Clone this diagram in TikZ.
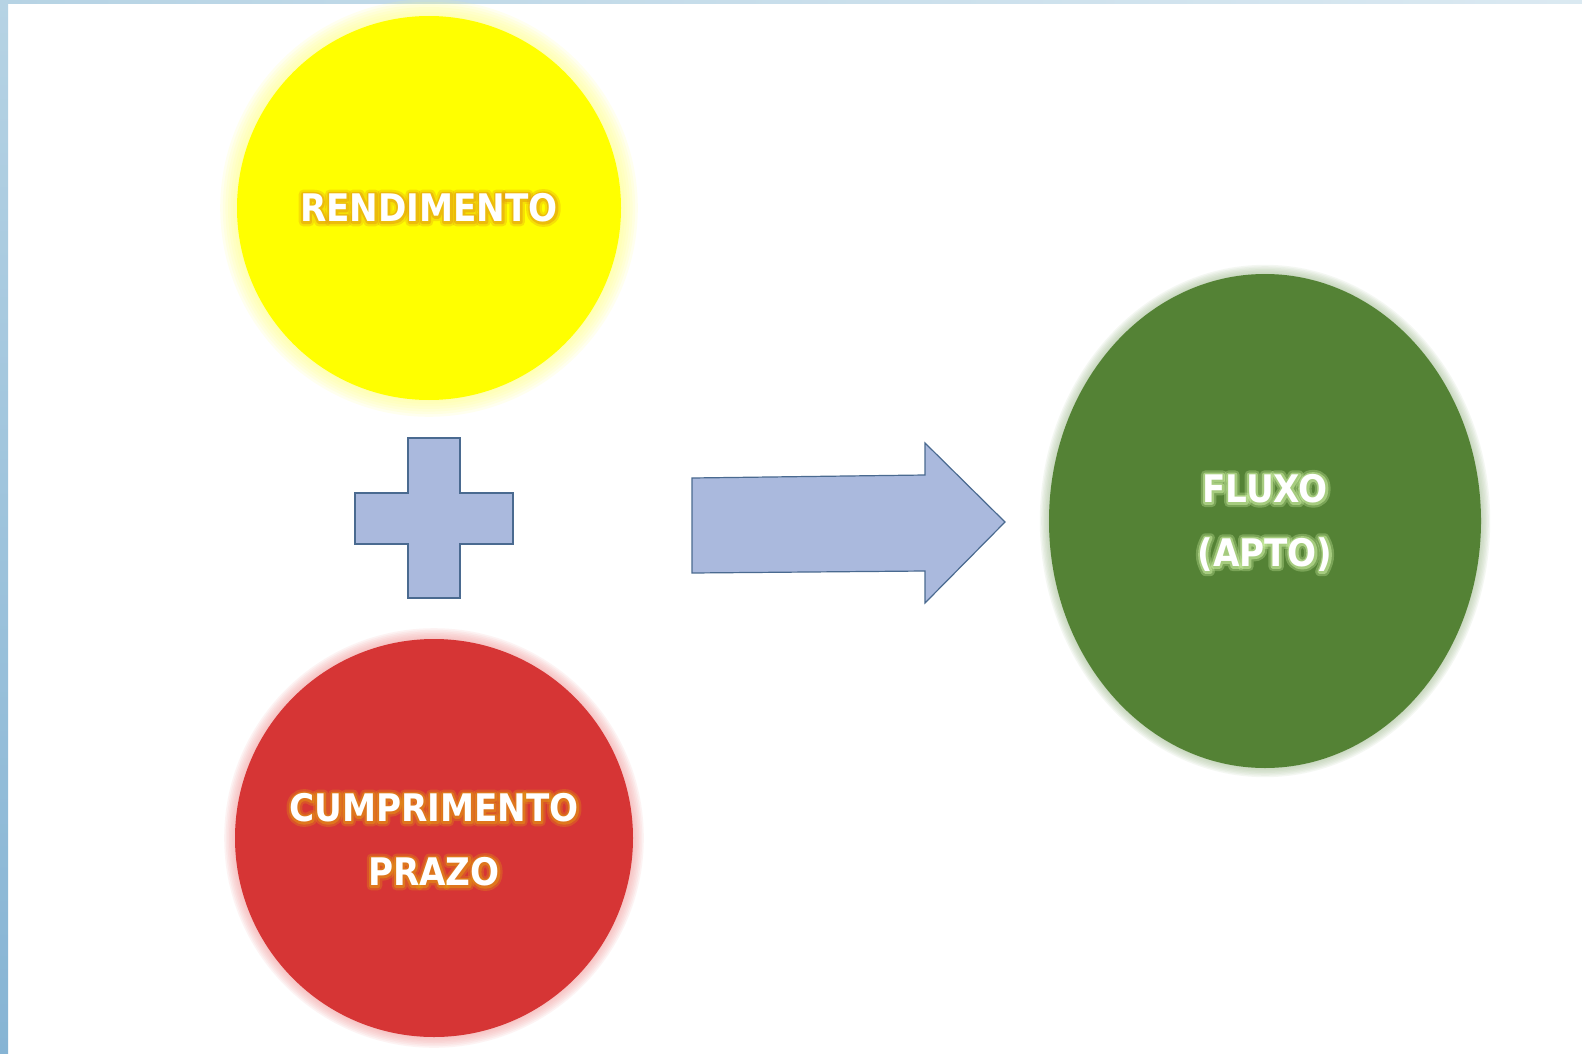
\documentclass[tikz,border=0pt]{standalone}
\usepackage{fontspec}
\setmainfont{DejaVu Sans Condensed}
\usetikzlibrary{calc,shapes.geometric}
\definecolor{ylw}{HTML}{FFFF00}
\definecolor{ylwhalo}{HTML}{FFFF80}
\definecolor{redfill}{HTML}{D63535}
\definecolor{redhalo}{HTML}{F4A2A2}
\definecolor{grnfill}{HTML}{548235}
\definecolor{grnhalo}{HTML}{A9C29A}
\definecolor{shapefill}{HTML}{AAB9DD}
\definecolor{shapeline}{HTML}{4A6A90}
\definecolor{barlight}{HTML}{B6D3E4}
\definecolor{bardark}{HTML}{86B4D4}
\definecolor{orangeglow}{HTML}{E39A12}
\definecolor{greenglow}{HTML}{D2F5A8}
\tikzset{
  lbl/.style={font=\bfseries\fontsize{38}{64}\selectfont, text=white, align=center, inner sep=0pt},
  shapestyle/.style={fill=shapefill, draw=shapeline, line width=1.2pt, line join=miter}
}
\newcommand{\strokeon}[1]{\special{pdf:literal direct 1 Tr #1 w 1 j}}
\newcommand{\strokeoff}{\special{pdf:literal direct 0 Tr}}
\newcommand{\glowlabel}[5]{% name, position, glow colour, line1, line2
  \node[lbl, text=#3, opacity=0.3] (#1glowwide) at #2 {\strokeon{9}#4\strokeoff\ifx&#5&\else\\\strokeon{9}#5\strokeoff\fi};
  \node[lbl, text=#3, opacity=0.5] (#1glow) at #2 {\strokeon{4.5}#4\strokeoff\ifx&#5&\else\\\strokeon{4.5}#5\strokeoff\fi};
  \node[lbl] (#1) at #2 {#4\ifx&#5&\else\\#5\fi};
}
\newcommand{\halo}[6]{% center x, y, rx, ry, colour, step
  \foreach \k in {1,...,8}{
    \fill[#5, opacity=0.12] (#1,#2) ellipse [x radius={#3+\k*#6}, y radius={#4+\k*#6}];
  }
}
\begin{document}
\begin{tikzpicture}[x=1pt,y=-1pt]
\useasboundingbox (0,0) rectangle (1582,1054);
\fill[white] (0,0) rectangle (1582,1054);
% frame bars
\shade[left color=barlight, right color=barlight!50!white] (0,0) rectangle (1582,4);
\shade[top color=barlight, bottom color=bardark] (0,0) rectangle (8,1054);
% yellow circle
\halo{429}{208}{188}{188}{ylwhalo}{2.6}
\fill[ylw] (429,208) circle (192);
\node[circle, minimum size=384pt, inner sep=0pt] (rend) at (429,208) {};
% red circle
\halo{434}{838}{197}{197}{redhalo}{1.6}
\fill[redfill] (434,838) circle (199);
\node[circle, minimum size=398pt, inner sep=0pt] (cump) at (434,838) {};
% green ellipse
\halo{1265}{521}{214}{245}{grnhalo}{1.4}
\fill[grnfill] (1265,521) ellipse [x radius=216, y radius=247];
\node[ellipse, minimum width=432pt, minimum height=494pt, inner sep=0pt] (fluxo) at (1265,521) {};
% plus sign
\coordinate (plusc) at (434,518);
\draw[shapestyle] (408,438) -- (460,438) -- (460,493) -- (513,493) -- (513,544) -- (460,544)
  -- (460,598) -- (408,598) -- (408,544) -- (355,544) -- (355,493) -- (408,493) -- cycle;
% block arrow
\coordinate (arrowtip) at (1005,522);
\draw[shapestyle] (692,478) -- (925,475) -- (925,443) -- (arrowtip) -- (925,603) -- (925,571) -- (692,573) -- cycle;
% labels
\glowlabel{rendtext}{(429,208)}{orangeglow}{RENDIMENTO}{}
\glowlabel{cumptext}{(434,840)}{orangeglow}{CUMPRIMENTO}{PRAZO}
\glowlabel{fluxotext}{(1265,523)}{greenglow}{FLUXO}{(APTO)}
\end{tikzpicture}
\end{document}
